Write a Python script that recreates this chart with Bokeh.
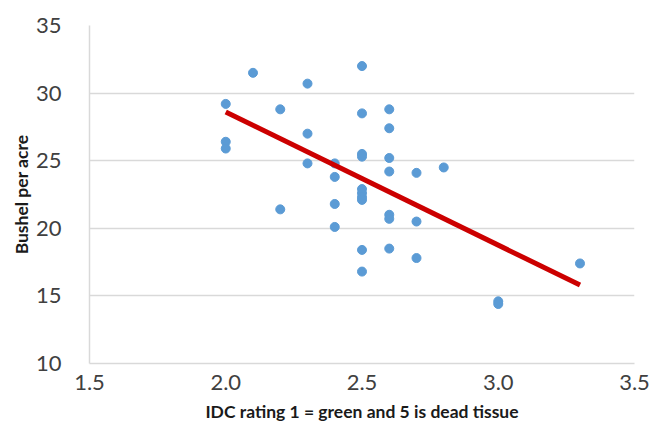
from bokeh.plotting import figure
from bokeh.models import Range1d, FixedTicker, NumeralTickFormatter
from bokeh.embed import file_html
from bokeh.resources import INLINE

# data
idc = [2.0, 2.0, 2.0, 2.1, 2.2, 2.2, 2.3, 2.3, 2.3,
       2.4, 2.4, 2.4, 2.4,
       2.5, 2.5, 2.5, 2.5, 2.5, 2.5, 2.5, 2.5, 2.5, 2.5,
       2.6, 2.6, 2.6, 2.6, 2.6, 2.6, 2.6,
       2.7, 2.7, 2.7, 2.8, 3.0, 3.0, 3.3]
bushel = [29.2, 26.4, 25.9, 31.5, 28.8, 21.4, 30.7, 27.0, 24.8,
          24.8, 23.8, 21.8, 20.1,
          32.0, 28.5, 25.5, 25.3, 22.9, 22.6, 22.3, 22.1, 18.4, 16.8,
          28.8, 27.4, 25.2, 24.2, 21.0, 20.7, 18.5,
          24.1, 20.5, 17.8, 24.5, 14.6, 14.4, 17.4]
trend_x = [2.0, 3.3]
trend_y = [28.6, 15.8]
x_ticks = [1.5, 2.0, 2.5, 3.0, 3.5]
y_ticks = [10, 15, 20, 25, 30, 35]

FONT = "Lato"

p = figure(width=652, height=437, output_backend="svg", toolbar_location=None,
           x_range=Range1d(1.5, 3.5), y_range=Range1d(10, 35),
           min_border_left=89, min_border_right=18, min_border_top=25,
           min_border_bottom=74)
p.outline_line_color = None
p.background_fill_color = "white"
p.border_fill_color = "white"

p.scatter(idc, bushel, size=9, color="#5b9bd5", line_color="#5b9bd5")
p.line(trend_x, trend_y, line_width=5, color="#cc0000")

p.xgrid.grid_line_color = None
p.ygrid.grid_line_color = "#d9d9d9"
p.ygrid.grid_line_width = 1.5

for ax in (p.xaxis[0], p.yaxis[0]):
    ax.axis_line_color = "#d9d9d9"
    ax.axis_line_width = 1.5
    ax.major_tick_line_color = None
    ax.minor_tick_line_color = None
    ax.major_label_text_font = FONT
    ax.major_label_text_font_size = "22px"
    ax.major_label_text_color = "#404040"
    ax.axis_label_text_font = FONT
    ax.axis_label_text_font_size = "17.5px"
    ax.axis_label_text_font_style = "bold"
    ax.axis_label_text_color = "#1a1a1a"

p.xaxis.ticker = FixedTicker(ticks=x_ticks)
p.yaxis.ticker = FixedTicker(ticks=y_ticks)
p.xaxis.formatter = NumeralTickFormatter(format="0.0")
p.xaxis.axis_label = "IDC rating 1 = green and 5 is dead tissue"
p.yaxis.axis_label = "Bushel per acre"
p.xaxis.major_label_standoff = 5
p.yaxis.major_label_standoff = 22
p.xaxis.axis_label_standoff = 8
p.yaxis.axis_label_standoff = 1

open("out.html", "w").write(file_html(p, INLINE))
